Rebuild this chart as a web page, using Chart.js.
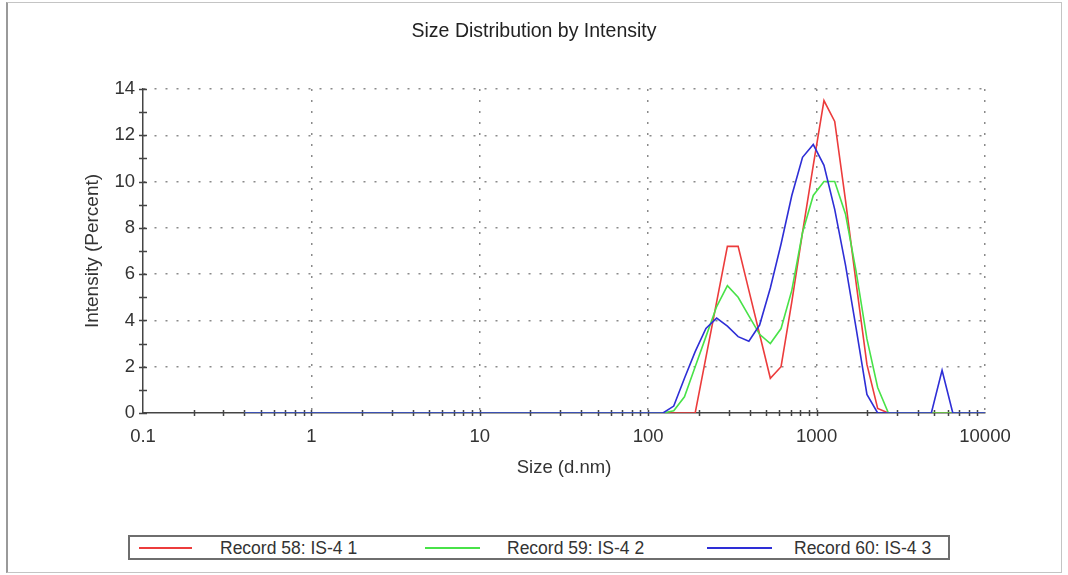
<!DOCTYPE html>
<html>
<head>
<meta charset="utf-8">
<title>Size Distribution by Intensity</title>
<script src="https://cdn.jsdelivr.net/npm/chart.js@4.4.1/dist/chart.umd.min.js"></script>
<style>
    html, body { margin: 0; padding: 0; background: #fff; }
    #wrap { position: relative; width: 1068px; height: 575px; overflow: hidden; }
    #frame {
        position: absolute; left: 6px; top: 2px; width: 1056px; height: 571px;
        box-sizing: border-box; border: 1px solid #c4c4c4; border-left: 2px solid #9a9a9a;
    }
    #chart { position: absolute; left: 0; top: 0; }
    #legend {
        position: absolute; left: 128px; top: 535px; width: 822px; height: 25px;
        box-sizing: border-box; border: 2px solid #6e6e6e; background: #fff;
        font-family: "Liberation Sans", Arial, sans-serif; font-size: 17.5px; color: #333;
    }
    #legend .line { position: absolute; top: 10px; height: 2px; }
    #legend .txt { position: absolute; top: 1px; white-space: nowrap; }
</style>
</head>
<body>
<div id="wrap">
    <div id="frame"></div>
    <canvas id="chart" width="1068" height="575"></canvas>
    <div id="legend"></div>
</div>
<script>
// size classes (d.nm)
const sizes = [
    0.4, 0.4632, 0.5365, 0.6213, 0.7195, 0.8332, 0.9649,
    1.117, 1.294, 1.499, 1.736, 2.010, 2.328, 2.696, 3.122, 3.615, 4.187, 4.849, 5.615, 6.503, 7.531, 8.721,
    10.10, 11.70, 13.54, 15.69, 18.17, 21.04, 24.36, 28.21, 32.67, 37.84, 43.82, 50.75, 58.77, 68.06, 78.82, 91.28,
    105.7, 122.4, 141.8, 164.2, 190.1, 220.2, 255.0, 295.3, 342.0, 396.1, 458.7, 531.2, 615.1, 712.4, 825.0, 955.4,
    1106, 1281, 1484, 1718, 1990, 2305, 2669, 3091, 3580, 4145, 4801, 5560, 6439, 7456, 8635, 10000
];

// intensity (%) per size class
const record58 = [
    0, 0, 0, 0, 0, 0, 0,
    0, 0, 0, 0, 0, 0, 0, 0, 0, 0, 0, 0, 0, 0, 0,
    0, 0, 0, 0, 0, 0, 0, 0, 0, 0, 0, 0, 0, 0, 0, 0,
    0, 0, 0, 0, 0, 2.4, 4.8, 7.2, 7.2, 5.3, 3.4, 1.5, 2.0, 4.8, 7.8, 10.7,
    13.5, 12.6, 9.2, 5.6, 2.1, 0.2, 0, 0, 0, 0, 0, 0, 0, 0, 0, 0
];
const record59 = [
    0, 0, 0, 0, 0, 0, 0,
    0, 0, 0, 0, 0, 0, 0, 0, 0, 0, 0, 0, 0, 0, 0,
    0, 0, 0, 0, 0, 0, 0, 0, 0, 0, 0, 0, 0, 0, 0, 0,
    0, 0, 0.1, 0.7, 2.0, 3.3, 4.6, 5.5, 5.0, 4.2, 3.4, 3.0, 3.65, 5.3, 7.8, 9.4,
    10.0, 10.0, 8.6, 6.1, 3.2, 1.1, 0, 0, 0, 0, 0, 0, 0, 0, 0, 0
];
const record60 = [
    0, 0, 0, 0, 0, 0, 0,
    0, 0, 0, 0, 0, 0, 0, 0, 0, 0, 0, 0, 0, 0, 0,
    0, 0, 0, 0, 0, 0, 0, 0, 0, 0, 0, 0, 0, 0, 0, 0,
    0, 0, 0.3, 1.5, 2.65, 3.65, 4.1, 3.75, 3.3, 3.1, 3.8, 5.4, 7.3, 9.4, 11.05, 11.6,
    10.7, 8.8, 6.4, 3.65, 0.8, 0, 0, 0, 0, 0, 0, 1.85, 0, 0, 0, 0
];

const seriesNames = ['Record 58: IS-4 1', 'Record 59: IS-4 2', 'Record 60: IS-4 3'];
const seriesColors = ['rgb(236, 60, 60)', 'rgb(72, 226, 72)', 'rgb(46, 46, 214)'];
const seriesValues = [record58, record59, record60];

const yTickValues = [0, 2, 4, 6, 8, 10, 12, 14];
const xTickValues = [0.1, 1, 10, 100, 1000, 10000];
const xTickLabels = ['0.1', '1', '10', '100', '1000', '10000'];

const FONT = '"Liberation Sans", Arial, sans-serif';
const TEXT = '#333';
const GRID = '#8a8a8a';

function isDecade(v) {
    return xTickValues.some(d => Math.abs(v / d - 1) < 1e-6);
}

// small tick marks crossing both axes (every unit on y, every 1..9 step on x)
const axisTicks = {
    id: 'axisTicks',
    beforeDatasetsDraw(chart) {
        const { ctx, scales: { x, y } } = chart;
        ctx.save();
        ctx.strokeStyle = '#444';
        ctx.lineWidth = 1.5;
        ctx.beginPath();
        for (let v = 0; v <= 14; v++) {
            const py = Math.round(y.getPixelForValue(v)) + 0.5;
            ctx.moveTo(x.left - 4, py);
            ctx.lineTo(x.left + 4, py);
        }
        for (let d = 0; d < xTickValues.length - 1; d++) {
            for (let m = 1; m <= 9; m++) {
                if (d === 0 && m === 1) continue;
                const px = Math.round(x.getPixelForValue(xTickValues[d] * m)) + 0.5;
                ctx.moveTo(px, y.bottom - 3);
                ctx.lineTo(px, y.bottom + 3);
            }
        }
        ctx.stroke();
        ctx.restore();
    }
};

const datasets = seriesValues.map((vals, i) => ({
    label: seriesNames[i],
    data: sizes.map((s, j) => ({ x: s, y: vals[j] })),
    borderColor: seriesColors[i],
    backgroundColor: seriesColors[i],
    borderWidth: 1.6,
    pointRadius: 0,
    tension: 0,
    fill: false,
    order: 2 - i
}));

new Chart(document.getElementById('chart'), {
    type: 'line',
    data: { datasets: datasets },
    options: {
        responsive: false,
        animation: false,
        devicePixelRatio: 1,
        layout: { padding: { left: 0, right: 0, top: 0, bottom: 0 } },
        plugins: {
            legend: { display: false },
            tooltip: { enabled: false },
            title: {
                display: true,
                text: 'Size Distribution by Intensity',
                color: '#222',
                font: { family: FONT, size: 19.5, weight: 'normal' },
                padding: { top: 19.5, bottom: 46.1 }
            }
        },
        scales: {
            x: {
                type: 'logarithmic',
                min: 0.1,
                max: 10000,
                afterFit: scale => { scale.height = 162; },
                border: { color: '#444', width: 1.5, dash: [2, 9] },
                grid: {
                    drawTicks: false,
                    lineWidth: 1.5,
                    color: c => (c.tick && isDecade(c.tick.value) && c.tick.value > 0.1) ? GRID : 'rgba(0,0,0,0)'
                },
                ticks: {
                    autoSkip: false,
                    maxRotation: 0,
                    padding: 13,
                    color: TEXT,
                    font: { family: FONT, size: 18.5 },
                    callback: v => {
                        const k = xTickValues.findIndex(d => Math.abs(v / d - 1) < 1e-6);
                        return k >= 0 ? xTickLabels[k] : '';
                    }
                },
                title: {
                    display: true,
                    text: 'Size (d.nm)',
                    color: TEXT,
                    font: { family: FONT, size: 18.5 },
                    padding: { top: 0, bottom: 96 }
                }
            },
            y: {
                min: 0,
                max: 14,
                afterFit: scale => { scale.width = 143; },
                afterBuildTicks: scale => { scale.ticks = yTickValues.map(v => ({ value: v })); },
                border: { color: '#444', width: 1.5, dash: [2, 9] },
                grid: {
                    drawTicks: false,
                    lineWidth: 1.5,
                    color: c => (c.tick && c.tick.value > 0) ? GRID : 'rgba(0,0,0,0)'
                },
                ticks: {
                    padding: 8,
                    color: TEXT,
                    font: { family: FONT, size: 18.5 },
                    callback: v => String(v)
                },
                title: {
                    display: true,
                    text: 'Intensity (Percent)',
                    color: TEXT,
                    font: { family: FONT, size: 19 },
                    padding: { top: 81 }
                }
            },
            // empty right-hand gutter so the title centres over the whole frame
            yRight: {
                position: 'right',
                min: 0,
                max: 14,
                afterFit: scale => { scale.width = 83; },
                border: { display: false },
                grid: { display: false, drawOnChartArea: false },
                ticks: { display: false }
            }
        }
    },
    plugins: [axisTicks]
});

// boxed legend under the plot
const legendEl = document.getElementById('legend');
const lineLeft = [9, 295, 577];
const lineWidth = [53, 55, 65];
const textLeft = [90, 377, 664];
seriesNames.forEach((name, i) => {
    const ln = document.createElement('div');
    ln.className = 'line';
    ln.style.left = lineLeft[i] + 'px';
    ln.style.width = lineWidth[i] + 'px';
    ln.style.background = seriesColors[i];
    legendEl.appendChild(ln);
    const tx = document.createElement('div');
    tx.className = 'txt';
    tx.style.left = textLeft[i] + 'px';
    tx.textContent = name;
    legendEl.appendChild(tx);
});
</script>
</body>
</html>
